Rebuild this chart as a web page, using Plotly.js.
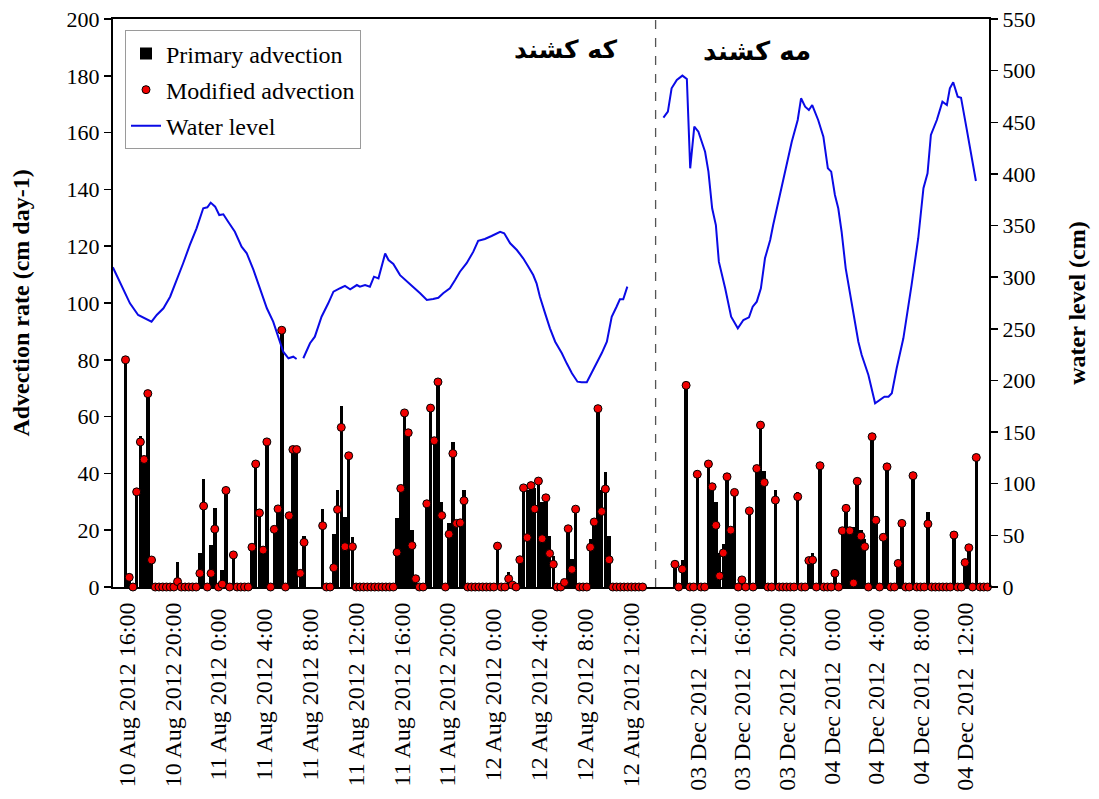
<!DOCTYPE html>
<html><head><meta charset="utf-8">
<script src="https://cdn.plot.ly/plotly-3.0.1.min.js"></script>
<style>body{margin:0;background:#fff}#chart{width:1099px;height:799px}</style>
</head><body><div id="chart"></div>
<script>
// ---- Advection (cm day-1), one value per sample; August record (sample index 0..139) ----
const augPrimary = [
 80, 3.4, 0, 33.5, 53, 45, 68.1, 9.5, 0, 0,
 0, 0, 0, 0, 8.9, 0, 0, 0, 0, 0,
 11.8, 37.9, 0, 14.8, 27.9, 0, 6, 34, 0, 11.3,
 0, 0, 0, 0, 14, 43.3, 27.5, 13, 51.1, 0,
 20.3, 27.5, 90.4, 0, 25.1, 48.4, 48.4, 4.8, 17.9, null,
 null, null, null, 27.4, 0, 0, 18.5, 34.3, 63.7, 24.7,
 46.2, 17.7, 0, 0, 0, 0, 0, 0, 0, 0,
 0, 0, 0, 24.4, 34.7, 61.3, 54.3, 20, 2.9, 0,
 0, 29.3, 63, 51.5, 72.2, 30, 0, 22.4, 51, 22.4,
 22.6, 34, 0, 0, 0, 0, 0, 0, 0, 0,
 14.4, 0, 0, 5.2, 0.7, 0, 9.6, 34.9, 34, 35.7,
 35, 37.3, 30, 31.4, 18, 11, 0, 0, 1.6, 20.5,
 10, 27.4, 0, 0, 0, 17, 22.9, 62.8, 34, 40.6,
 18, 0, 0, 0, 0, 0, 0, 0, 0, 0
];
const augModified = [
 80, 3.4, 0, 33.5, 51.1, 44.9, 68.1, 9.5, 0, 0,
 0, 0, 0, 0, 1.9, 0, 0, 0, 0, 0,
 4.8, 28.5, 0, 4.8, 20.4, 0, 1, 34, 0, 11.3,
 0, 0, 0, 0, 14, 43.3, 26.1, 13, 51.1, 0,
 20.3, 27.5, 90.4, 0, 25.1, 48.4, 48.4, 4.8, 15.7, null,
 null, null, null, 21.6, 0, 0, 6.8, 27.3, 56.2, 14.2,
 46.2, 14.2, 0, 0, 0, 0, 0, 0, 0, 0,
 0, 0, 0, 12.2, 34.7, 61.3, 54.3, 14.6, 2.9, 0,
 0, 29.3, 63, 51.5, 72.2, 25.2, 0, 18.6, 47, 22.4,
 22.6, 30.4, 0, 0, 0, 0, 0, 0, 0, 0,
 14.4, 0, 0, 2.9, 0.7, 0, 9.6, 34.9, 17.4, 35.7,
 27.5, 37.3, 17.0, 31.4, 11.8, 8.0, 0, 0, 1.6, 20.5,
 6.2, 27.4, 0, 0, 0, 14.0, 22.9, 62.8, 26.6, 34.5,
 9.6, 0, 0, 0, 0, 0, 0, 0, 0, 0
];
// ---- December record (85 samples) ----
const decPrimary = [
 8, 0, 9.4, 71, 0, 0, 39.7, 0, 0, 43.3,
 35.3, 30, 12, 15, 38.8, 20, 33.3, 0, 2.5, 0,
 26.8, 0, 41.7, 57, 41, 0, 0, 34.1, 0, 0,
 0, 0, 0, 33.5, 0, 0, 10, 12, 0, 42.7,
 0, 0, 0, 4.8, 0, 21, 27.7, 21, 21, 37.2,
 20, 17, 0, 52.9, 25, 0, 17.5, 42.3, 0, 0,
 8.3, 22.4, 0, 0, 40.2, 0, 0, 0, 26.3, 0,
 0, 0, 0, 0, 0, 18.3, 0, 0, 10, 13.8,
 0, 45.6, 0, 0, 0
];
const decModified = [
 8, 0, 6.3, 71, 0, 0, 39.7, 0, 0, 43.3,
 35.3, 21.7, 3.9, 12, 38.8, 20, 33.3, 0, 2.5, 0,
 26.8, 0, 41.7, 57, 36.8, 0, 0, 30.6, 0, 0,
 0, 0, 0, 31.8, 0, 0, 9.3, 9.5, 0, 42.7,
 0, 0, 0, 4.8, 0, 19.8, 27.7, 19.8, 1.4, 37.2,
 17.9, 14.2, 0, 52.9, 23.5, 0, 17.5, 42.3, 0, 0,
 8.3, 22.4, 0, 0, 39.2, 0, 0, 0, 22.2, 0,
 0, 0, 0, 0, 0, 18.3, 0, 0, 8.6, 13.8,
 0, 45.6, 0, 0, 0
];
// ---- Water level (cm) with its sample position on the shared axis ----
const augLevelX = [-3.4,-2.4,-0.6,1.2,3.4,5.2,7.0,8.4,10.2,12.0,13.8,15.5,17.3,19.1,20.9,22.0,22.9,24.1,25.2,26.3,27.6,29.4,31.2,32.6,34.4,36.2,38.0,39.7,41.1,42.4,43.8,45.1,46.0,
 46.9,
 47.8,49.6,50.9,52.7,54.5,55.9,57.7,59.0,60.4,62.2,63.0,64.4,65.7,66.8,68.0,69.8,70.7,72.0,73.8,75.6,77.4,79.2,81.0,82.7,84.1,85.4,87.2,88.6,89.9,91.7,93.5,94.8,96.6,98.4,100.7,101.8,103.4,105.2,106.9,108.3,109.6,110.5,111.4,112.8,114.1,115.5,117.3,118.6,120.0,121.5,122.6,124.0,125.3,126.7,128.0,129.4,130.7,132.0,132.9,133.8,134.9];
const augLevel = [309.6,302,287.6,274.7,263.4,260.2,256.9,263.4,269.9,281.1,297.3,313.5,331.2,347.3,366.7,367.7,372.2,368.3,360.2,360.9,353.7,344,329.5,323.1,307,287.6,269.9,256.9,242.4,227.8,221.5,223,220.8,
 null,
 221.5,236,242.4,261.7,274.7,286,289.3,291.5,288.3,292.4,290.8,292.4,290.8,300.5,298.9,323,316.6,312.8,302,295.6,290.2,284.4,277.9,278.9,280.1,284.4,289.2,297.3,305.3,313.5,324.7,335.3,337,339.9,344,342.5,332.8,326.3,318.3,310.2,302.1,294,281.1,265,250.5,237.5,226.3,216.6,206.9,198.8,198.2,198.2,206.9,216.6,226.3,237.5,261.7,271.4,278.6,278.6,290.8];
const decLevelX = [144.6,145.8,146.8,148.2,149.7,150.9,151.8,152.9,154.0,155.8,156.7,157.7,158.7,159.5,161.2,162.8,164.6,166.1,167.6,168.6,169.7,170.8,171.9,173.3,174.1,175.5,177.3,179.1,180.7,181.6,182.7,183.7,184.6,186.2,187.6,188.8,189.7,190.7,191.6,192.5,193.6,195.2,197.0,197.9,199.7,201.5,202.8,204.0,205.1,206.0,207.3,209.1,211.3,213.1,214.5,215.6,216.5,218.1,219.6,220.8,221.6,222.5,223.7,224.6,226.1,227.5,228.6];
const decLevel = [454.5,460.3,482.9,491,495.2,491.9,405.4,445.7,440.9,421.5,402.2,366.7,350.5,315,289.2,261.7,250.5,258.5,261.1,271.4,276.3,289.2,318.3,336,350.5,373.1,402.2,431.2,452.2,473.2,465.1,461.9,466.7,452.2,436,405.4,402.2,379.6,366.7,344,308.6,276.3,237.5,224.7,205.3,177.9,181.1,184.3,184.3,187.6,211.8,240.8,292.4,337.7,386.1,400.6,437.7,452.2,469.9,466.7,482.9,488.7,474.8,473.8,443.9,414.9,393.1];

// ---- Tick labels and their positions on the sample axis ----
const tickVals = [0.4,12.71,25.02,37.33,49.64,61.95,74.26,86.57,98.88,111.19,123.5,135.81,
                  153.9,165.89,177.88,189.87,201.86,213.85,225.84];
const tickLabels = ["10 Aug 2012 16:00","10 Aug 2012 20:00","11 Aug 2012 0:00\u2005","11 Aug 2012 4:00\u2005","11 Aug 2012 8:00\u2005",
  "11 Aug 2012 12:00","11 Aug 2012 16:00","11 Aug 2012 20:00","12 Aug 2012 0:00\u2005","12 Aug 2012 4:00\u2005","12 Aug 2012 8:00\u2005","12 Aug 2012 12:00",
  "03 Dec 2012\u2009 12:00","03 Dec 2012\u2009 16:00","03 Dec 2012\u2009 20:00","04 Dec 2012\u2009 0:00\u2005","04 Dec 2012\u2009 4:00\u2005","04 Dec 2012\u2009 8:00\u2005","04 Dec 2012\u2009 12:00"];

const decStart = 147.7;   // axis position of the first December sample (after the gap)

const augX = augPrimary.map((_, i) => i);
const decX = decPrimary.map((_, j) => decStart + j);
const sampleX = augX.concat(decX);
const primary = augPrimary.concat(decPrimary);
const modified = augModified.concat(decModified);
const levelX = augLevelX.concat([null], decLevelX);
const level = augLevel.concat([null], decLevel);

const serif = '"Liberation Serif", "Times New Roman", Times, serif';

const traces = [
  {type:'bar', x:sampleX, y:primary, width:0.95, name:'Primary advection', legendgroup:'a',
   marker:{color:'#000000', line:{width:0}}},
  {type:'scatter', mode:'markers', x:sampleX, y:modified, name:'Modified advection', legendgroup:'b',
   cliponaxis:false, marker:{size:8, color:'#f20000', line:{color:'#000', width:1}}},
  {type:'scatter', mode:'lines', x:levelX, y:level, yaxis:'y2', name:'Water level', legendgroup:'c',
   connectgaps:false, line:{color:'#0a0ae6', width:2}}
];

const layout = {
  width:1099, height:799,
  margin:{l:113, r:110, t:19, b:212},
  paper_bgcolor:'#ffffff', plot_bgcolor:'#ffffff',
  font:{family:serif, size:22, color:'#000'},
  bargap:0,
  showlegend:true,
  legend:{x:0.0137, y:0.98, xanchor:'left', yanchor:'top', bgcolor:'#ffffff',
          bordercolor:'#9a9a9a', borderwidth:1, font:{family:serif, size:24, color:'#000'},
          traceorder:'grouped', tracegroupgap:2},
  xaxis:{range:[-3.36, 232.12], tickmode:'array', tickvals:tickVals, ticktext:tickLabels,
         tickangle:-90, ticks:'', ticklabelstandoff:4, showgrid:false, zeroline:false,
         showline:true, linecolor:'#000', linewidth:2, mirror:true, layer:'below traces',
         tickfont:{family:serif, size:24, color:'#000'}},
  yaxis:{range:[0,200], dtick:20, ticks:'outside', ticklen:7, tickwidth:1.5, tickcolor:'#000',
         showline:true, linecolor:'#000', linewidth:2, showgrid:false, zeroline:false,
         layer:'below traces', tickfont:{family:serif, size:22, color:'#000'},
         title:{text:'<b>Advection rate (cm day-1)</b>', font:{family:serif, size:24, color:'#000'}, standoff:30}},
  yaxis2:{overlaying:'y', side:'right', range:[0,550], dtick:50, ticks:'outside', ticklen:7, tickwidth:1.5,
          tickcolor:'#000', showline:true, linecolor:'#000', linewidth:2, showgrid:false, zeroline:false,
          tickfont:{family:serif, size:22, color:'#000'},
          title:{text:'<b>water level (cm)</b>', font:{family:serif, size:24, color:'#000'}, standoff:34}},
  shapes:[{type:'line', xref:'x', yref:'paper', x0:142.5, x1:142.5, y0:0, y1:1,
           line:{color:'#555', width:1.3, dash:'dash'}}],
  annotations:[
    {text:'<b>که کشند</b>', xref:'paper', yref:'paper', x:0.517, y:0.947, showarrow:false,
     xanchor:'center', yanchor:'middle', font:{family:'"DejaVu Sans", sans-serif', size:25, color:'#000'}},
    {text:'<b>مه کشند</b>', xref:'paper', yref:'paper', x:0.735, y:0.944, showarrow:false,
     xanchor:'center', yanchor:'middle', font:{family:'"DejaVu Sans", sans-serif', size:26, color:'#000'}}
  ]
};

Plotly.newPlot('chart', traces, layout, {displayModeBar:false, staticPlot:true});
</script>
</body></html>
